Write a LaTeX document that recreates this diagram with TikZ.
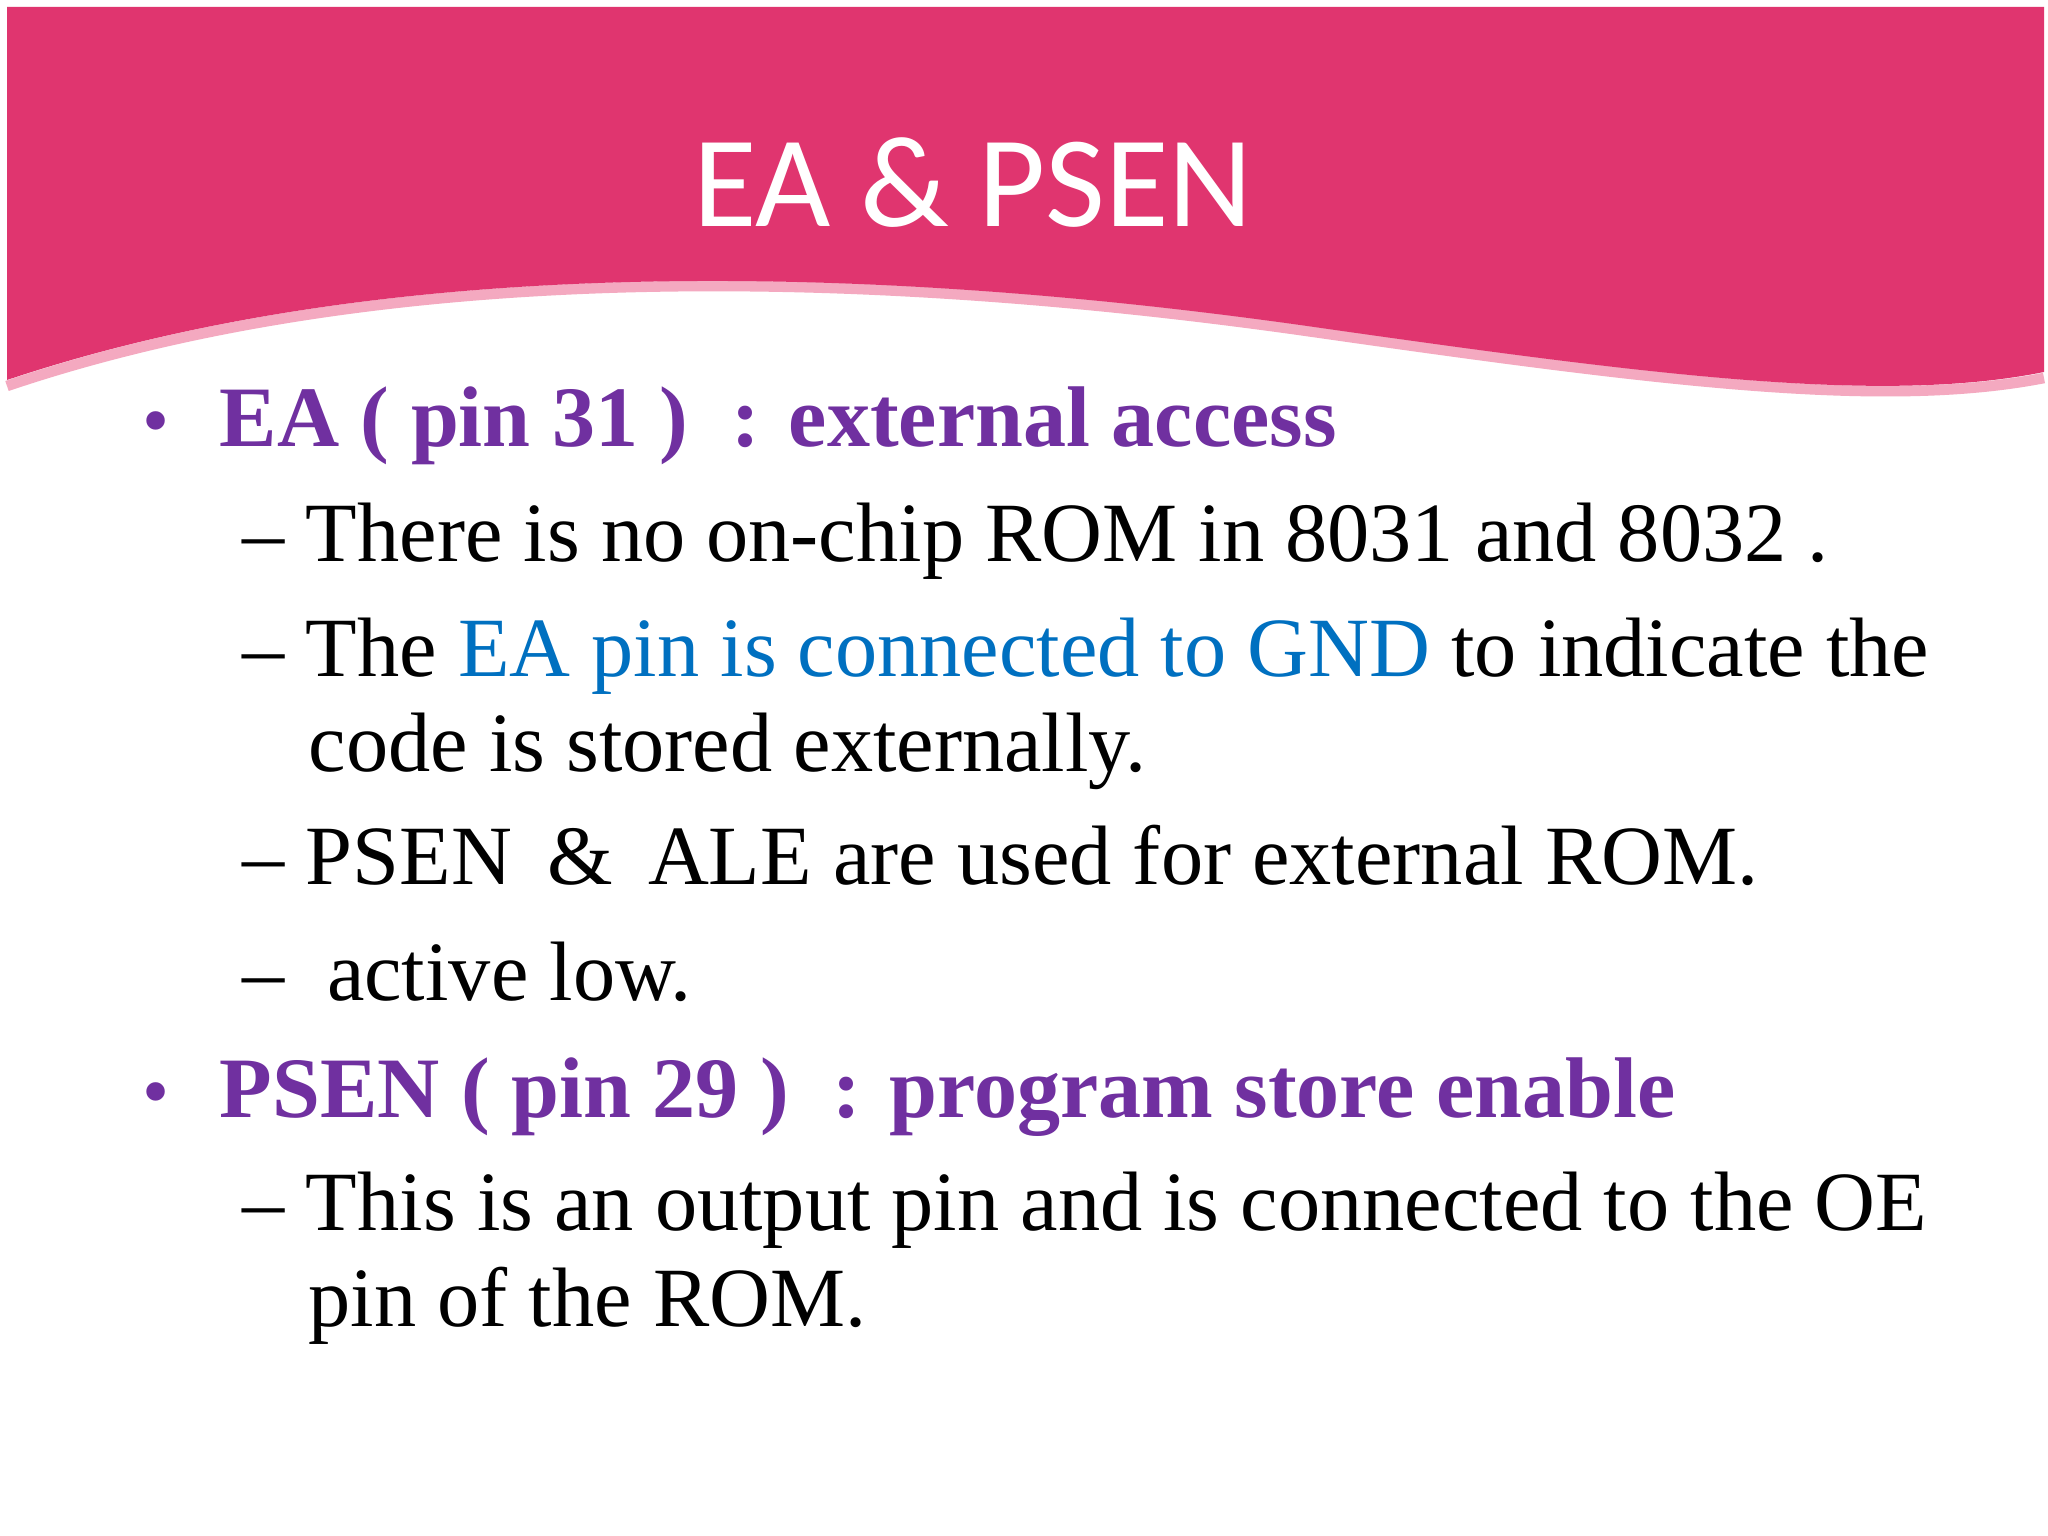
\documentclass[tikz,border=0pt]{standalone}
\usepackage{fontspec}
\setmainfont{Liberation Serif}
\newfontfamily\titlefont{Carlito}
\definecolor{pinkband}{HTML}{E0356F}
\definecolor{pinkline}{HTML}{F4A9C0}
\definecolor{headpurple}{HTML}{7030A0}
\definecolor{linkblue}{HTML}{0070C0}
\begin{document}
\begin{tikzpicture}[
  body/.style={anchor=base west,inner sep=0pt,font=\fontsize{24}{28}\selectfont},
  head/.style={body,text=headpurple,font=\fontsize{24.5}{28}\selectfont\bfseries},
  bul/.style={anchor=base west,inner sep=0pt,text=headpurple,font=\fontsize{22}{26}\selectfont}]
\useasboundingbox (0,0) rectangle (20.48,-15.36);
\fill[white] (0,0) rectangle (20.48,-15.36);
\draw[pinkline,line width=3pt] (0.07,-3.86) .. controls (3.5,-2.7) and (8,-2.6) .. (13,-3.3) .. controls (16.5,-3.8) and (18.8,-4.1) .. (20.44,-3.78);
\fill[pinkband] (0.07,-0.07) -- (20.44,-0.07) -- (20.44,-3.72) .. controls (18.8,-4.05) and (16.5,-3.75) .. (13,-3.25) .. controls (8,-2.55) and (3.5,-2.65) .. (0.07,-3.8) -- cycle;
\node[text=white,font=\titlefont\fontsize{37}{40}\selectfont] (title) at (9.73,-1.83) {EA \& PSEN};
\node[bul] (b1) at (1.42,4.47-8.94) {•};
\node[head] (h1) at (2.19,-4.47) {EA ( pin 31 ) \ : external access};
\node[body] (l1) at (2.42,-5.62) {– There is no on-chip ROM in 8031 and 8032 .};
\node[body] (l2) at (2.42,-6.77) {– The \textcolor{linkblue}{EA pin is connected to GND} to indicate the};
\node[body] (l3) at (3.08,-7.71) {code is stored externally.};
\node[body] (l4) at (2.42,-8.85) {– PSEN \,\&\, ALE are used for external ROM.};
\node[body] (l5) at (2.42,-10.0) {– \ active low.};
\node[bul] (b2) at (1.42,-11.17) {•};
\node[head] (h2) at (2.19,-11.17) {PSEN ( pin 29 ) \ : program store enable};
\node[body] (l6) at (2.42,-12.30) {– This is an output pin and is connected to the OE};
\node[body] (l7) at (3.08,-13.26) {pin of the ROM.};
\end{tikzpicture}
\end{document}
